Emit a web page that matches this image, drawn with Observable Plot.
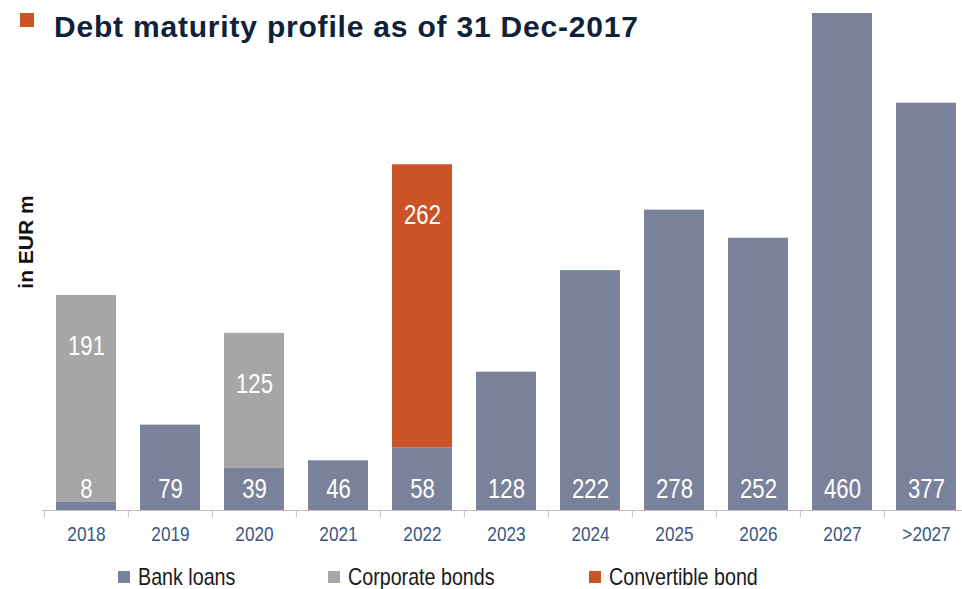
<!DOCTYPE html>
<html><head><meta charset="utf-8">
<script src="https://cdn.jsdelivr.net/npm/d3@7"></script>
<script src="https://cdn.jsdelivr.net/npm/@observablehq/plot@0.6"></script>
<style>
body{margin:0;background:#fff;width:962px;height:589px;overflow:hidden;position:relative;font-family:"Liberation Sans",Arial,sans-serif;}
#chart{position:absolute;left:0;top:0;}
#bullet{position:absolute;left:20px;top:13px;width:14px;height:14px;background:#cc5228;}
#title{position:absolute;left:54px;top:12px;font-size:30px;line-height:1;font-weight:bold;color:#0e2239;letter-spacing:0.8px;white-space:nowrap;}
.leg{position:absolute;top:567px;font-family:"Liberation Sans",Arial,sans-serif;font-size:24px;line-height:20px;color:#1a1a1a;white-space:nowrap;transform:scaleX(0.82);transform-origin:0 50%;}
.sw{position:absolute;top:571px;width:12px;height:12px;}
</style></head><body>
<div id="chart"></div>
<div id="bullet"></div>
<div id="title">Debt maturity profile as of 31 Dec-2017</div>
<div id="legend"></div>
<script>
const categories = ["2018","2019","2020","2021","2022","2023","2024","2025","2026","2027",">2027"];
const bankLoans = [8,79,39,46,58,128,222,278,252,460,377];
const corporateBonds = [191,0,125,0,0,0,0,0,0,0,0];
const convertibleBond = [0,0,0,0,262,0,0,0,0,0,0];
const seriesNames = ["Bank loans","Corporate bonds","Convertible bond"];
const seriesColors = ["#7a829b","#a6a6a6","#cc5228"];
const yLabel = "in EUR m";

const rows = [];
categories.forEach((c, i) => {
  rows.push({category: c, series: seriesNames[0], value: bankLoans[i], base: 0});
  rows.push({category: c, series: seriesNames[1], value: corporateBonds[i], base: bankLoans[i]});
  rows.push({category: c, series: seriesNames[2], value: convertibleBond[i], base: bankLoans[i]});
});
const bankRows = rows.filter(d => d.series === seriesNames[0]);
const upperRows = rows.filter(d => d.series !== seriesNames[0] && d.value > 0);

const xRange = [42, 969];
const step = (xRange[1] - xRange[0]) / categories.length;
const font = "'Liberation Sans',Arial,sans-serif";

const chart = Plot.plot({
  width: 962,
  height: 550,
  marginTop: 13,
  marginBottom: 40,
  marginLeft: 42,
  marginRight: 0,
  style: {background: "transparent", overflow: "visible", fontFamily: font},
  x: {domain: categories, range: xRange, paddingInner: 0.29, paddingOuter: 0.145, label: null},
  y: {domain: [0, 460], axis: null},
  color: {domain: seriesNames, range: seriesColors},
  marks: [
    Plot.barY(rows.filter(d => d.value > 0), Plot.stackY({x: "category", y: "value", fill: "series", order: seriesNames})),
    Plot.ruleY([0], {stroke: "#c0c0c0", strokeWidth: 1}),
    Plot.ruleX(categories, {x: d => d, y1: 0, y2: 0, dx: -step / 2, insetBottom: -7, stroke: "#c0c0c0"}),
    Plot.axisX({tickSize: 0, tickPadding: 16, fontSize: 21, fontFamily: font, fill: "#3a5680"}),
    Plot.text(bankRows, {x: "category", y: 0, text: d => String(d.value), dy: -21, fill: "white", fontSize: 27, fontFamily: font, lineAnchor: "middle"}),
    Plot.text(upperRows, {x: "category", y: d => d.base + d.value, text: d => String(d.value), dy: 51, fill: "white", fontSize: 27, fontFamily: font, lineAnchor: "middle"}),
    Plot.text([yLabel], {frameAnchor: "left", text: d => d, dx: -16, dy: -20, rotate: -90, fontSize: 21, fontWeight: "bold", fontFamily: font, fill: "#111", lineAnchor: "middle", textAnchor: "middle"})
  ]
});
document.getElementById("chart").appendChild(chart);

// condense the narrow-style texts (values and tick labels) around their own centre
for (const t of chart.querySelectorAll("text")) {
  if (t.textContent === yLabel) continue;
  const b = t.getBBox();
  const cx = b.x + b.width / 2;
  const tr = t.getAttribute("transform") || "";
  t.setAttribute("transform", `${tr} translate(${cx},0) scale(0.82,1) translate(${-cx},0)`);
}

const legendPos = [118, 328, 589];
const legend = document.getElementById("legend");
seriesNames.forEach((name, i) => {
  const sw = document.createElement("div");
  sw.className = "sw";
  sw.style.left = legendPos[i] + "px";
  sw.style.background = seriesColors[i];
  legend.appendChild(sw);
  const t = document.createElement("div");
  t.className = "leg";
  t.style.left = (legendPos[i] + 20) + "px";
  t.textContent = name;
  legend.appendChild(t);
});
</script>
</body></html>
